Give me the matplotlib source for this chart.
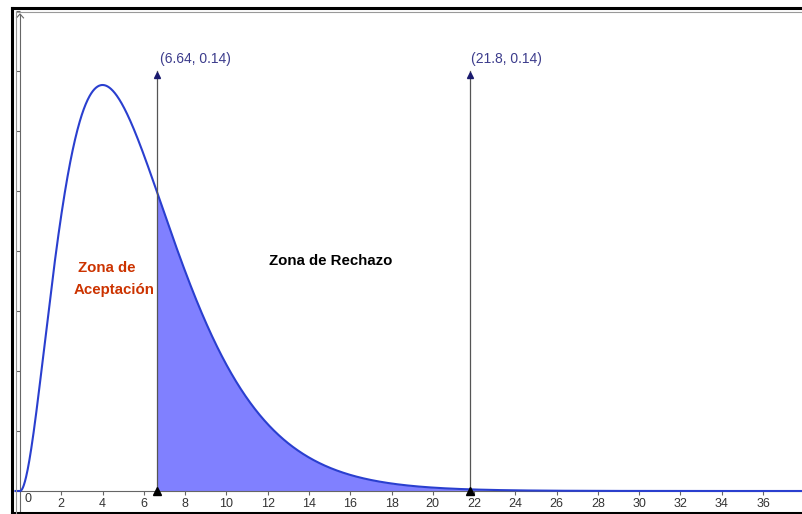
import numpy as np
import matplotlib
matplotlib.use("Agg")
import matplotlib.pyplot as plt
from matplotlib.lines import Line2D
from math import gamma

plt.rcParams['font.family'] = ['Liberation Sans', 'DejaVu Sans']

# chi-square curve, 6 degrees of freedom (GeoGebra function plot)
df = 6
crit_low = 6.64
crit_high = 21.8
arrow_top = 0.14
xtick_vals = list(range(2, 38, 2))
ytick_vals = [0.02, 0.04, 0.06, 0.08, 0.10, 0.12, 0.14, 0.16]

def chi2_pdf(x, k):
    x = np.asarray(x, dtype=float)
    out = np.zeros_like(x)
    m = x > 0
    out[m] = x[m] ** (k / 2 - 1) * np.exp(-x[m] / 2) / (2 ** (k / 2) * gamma(k / 2))
    return out

fig = plt.figure(figsize=(8.02, 5.14), dpi=100)
ax = fig.add_axes([0, 0, 1, 1])
ax.set_xlim(-20 / 20.64, 782 / 20.64)
ax.set_ylim(-23 / 3000, 491 / 3000)

axis_col = '#666666'
for s in ['top', 'right']:
    ax.spines[s].set_visible(False)
ax.spines['left'].set_position(('data', 0))
ax.spines['bottom'].set_position(('data', 0))
ax.spines['left'].set_color(axis_col)
ax.spines['bottom'].set_color(axis_col)
ax.spines['left'].set_bounds(-23 / 3000, 0.159)
ax.spines['bottom'].set_bounds(-0.22, 782 / 20.64)
ax.patch.set_visible(False)

ax.set_xticks(xtick_vals)
ax.set_xticklabels([str(v) for v in xtick_vals])
ax.set_yticks(ytick_vals)
ax.set_yticklabels([])
ax.tick_params(axis='x', direction='out', length=3, width=0.8, color=axis_col,
               labelsize=9, labelcolor='#333333', pad=2)
ax.tick_params(axis='y', direction='out', length=3, width=0.8, color=axis_col)
ax.text(0.39, -0.0007, '0', fontsize=9, color='#333333', ha='center', va='top')

# y axis open arrow head
ax.plot([-0.17, 0, 0.17], [0.159 - 0.0013, 0.159, 0.159 - 0.0013], color=axis_col, lw=0.8)

x = np.linspace(-0.22, 38, 2000)
y = chi2_pdf(x, df)
ax.fill_between(x, 0, y, where=x >= crit_low, color='#8080ff', lw=0)
ax.plot(x, y, color='#2a3fcf', lw=1.5, zorder=3)

for c in [crit_low, crit_high]:
    ax.plot([c, c], [0, arrow_top], color='#555555', lw=0.9, zorder=4)
    ax.plot(c, arrow_top - 0.0012, marker='^', color='#1a1a6e', markersize=5, zorder=5)
    ax.plot(c, 0, marker='^', color='black', markersize=5.5, zorder=5)

ax.text(crit_low + 0.14, arrow_top + 0.004, '(6.64, 0.14)', fontsize=10, color='#3c3c8c', va='center')
ax.text(crit_high + 0.05, arrow_top + 0.004, '(21.8, 0.14)', fontsize=10, color='#3c3c8c', va='center')
ax.text(15.07, 0.0767, 'Zona de Rechazo', fontsize=10.8, fontweight='bold', color='black',
        ha='center', va='center')
ax.text(2.81, 0.0743, 'Zona de', fontsize=10.8, fontweight='bold', color='#cc3300', va='center')
ax.text(2.62, 0.067, 'Aceptación', fontsize=10.8, fontweight='bold', color='#cc3300', va='center')

# window frame
W, H = 802, 514
def fline(x0, y0, x1, y1, col, lw):
    fig.add_artist(Line2D([x0 / W, x1 / W], [1 - y0 / H, 1 - y1 / H], color=col, lw=lw))

fline(11.5, 8, 11.5, 514, 'black', 2.2)
fline(11.5, 8, 802, 8, 'black', 2.2)
fline(11.5, 512.5, 802, 512.5, 'black', 2.2)
fline(15.5, 11.5, 15.5, 514, '#999999', 0.8)
fline(15.5, 11.5, 802, 11.5, '#999999', 0.8)

fig.savefig('out.png', dpi=100)
